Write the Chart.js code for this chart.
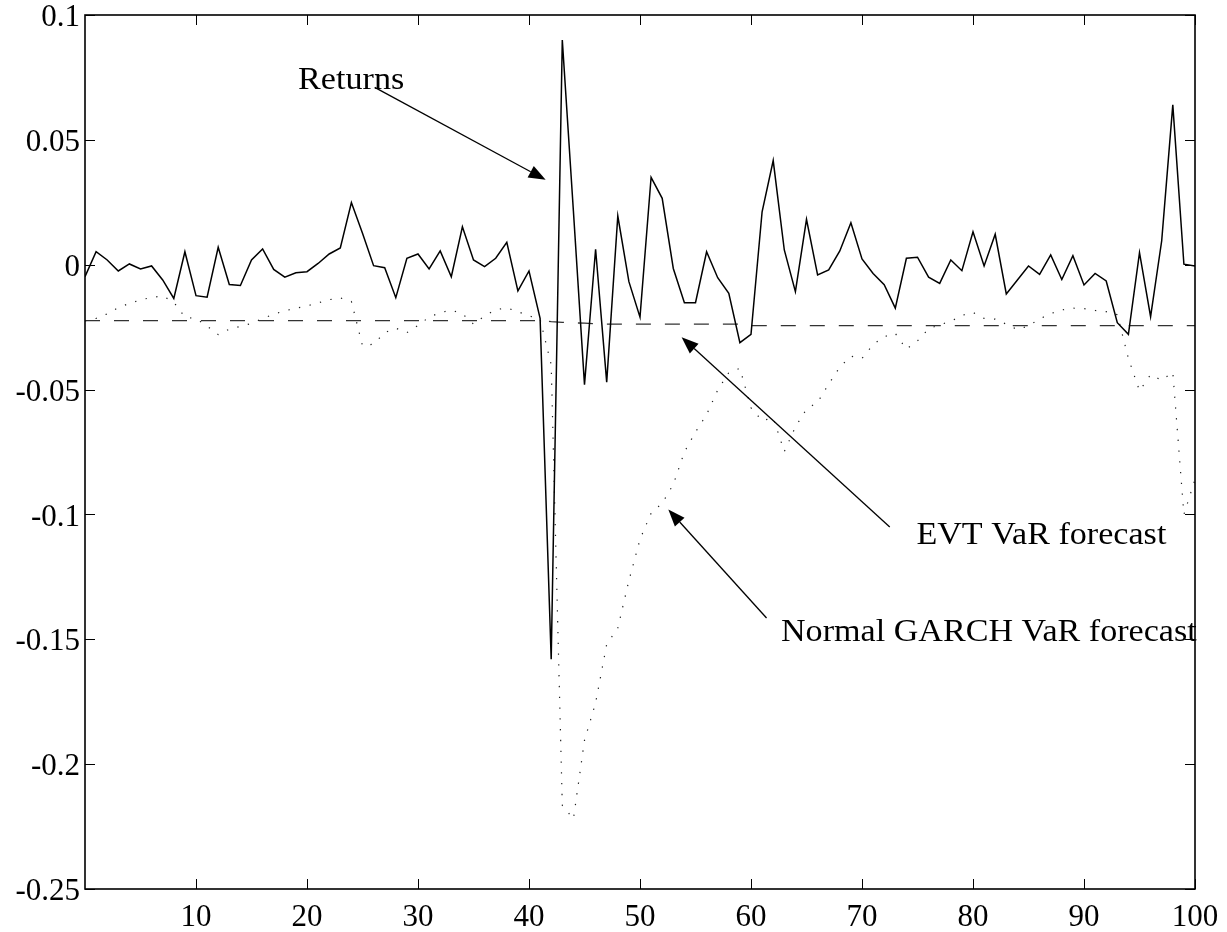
<!DOCTYPE html>
<html>
<head>
<meta charset="utf-8">
<script src="https://cdn.jsdelivr.net/npm/chart.js@4.4.1/dist/chart.umd.min.js"></script>
<style>
  html, body { margin: 0; padding: 0; background: #fff; }
  #wrap { width: 1227px; height: 932px; }
</style>
</head>
<body>
<div id="wrap"><canvas id="varChart" width="1227" height="932"></canvas></div>
<script>
// x ticks and y ticks
const xTicks = [10, 20, 30, 40, 50, 60, 70, 80, 90, 100];
const yTicks = [0.1, 0.05, 0, -0.05, -0.1, -0.15, -0.2, -0.25];
const yTickLabels = ["0.1", "0.05", "0", "-0.05", "-0.1", "-0.15", "-0.2", "-0.25"];

// daily returns, day 0..100
const returns = [
  -0.0048, 0.0052, 0.0019, -0.0025, 0.0003, -0.0017, -0.0005, -0.0061, -0.0135, 0.0052,
  -0.0124, -0.0130, 0.0070, -0.0079, -0.0083, 0.0019, 0.0063, -0.0019, -0.0050, -0.0032,
  -0.0028, 0.0005, 0.0043, 0.0067, 0.0249, 0.0126, -0.0004, -0.0012, -0.0132, 0.0026,
  0.0043, -0.0017, 0.0055, -0.0048, 0.0152, 0.0019, -0.0008, 0.0026, 0.0090, -0.0105,
  -0.0025, -0.0215, -0.1580, 0.0900, 0.0215, -0.0480, 0.0062, -0.0470, 0.0195, -0.0068,
  -0.0210, 0.0350, 0.0266, -0.0015, -0.0152, -0.0152, 0.0052, -0.0052, -0.0115, -0.0312,
  -0.0279, 0.0212, 0.0417, 0.0059, -0.0108, 0.0182, -0.0041, -0.0021, 0.0055, 0.0168,
  0.0023, -0.0035, -0.0080, -0.0174, 0.0026, 0.0030, -0.0050, -0.0075, 0.0019, -0.0024,
  0.0132, -0.0005, 0.0122, -0.0117, -0.0061, -0.0005, -0.0039, 0.0039, -0.0059, 0.0036,
  -0.0081, -0.0035, -0.0065, -0.0232, -0.0279, 0.0048, -0.0208, 0.0096, 0.0640, 0.0002,
  -0.0005
];

// EVT VaR forecast
const evtVaR = [
  -0.0224, -0.0224, -0.0224, -0.0224, -0.0224, -0.0224, -0.0224, -0.0224, -0.0224, -0.0224,
  -0.0224, -0.0224, -0.0224, -0.0224, -0.0224, -0.0224, -0.0224, -0.0224, -0.0224, -0.0224,
  -0.0224, -0.0224, -0.0224, -0.0224, -0.0224, -0.0224, -0.0224, -0.0224, -0.0224, -0.0224,
  -0.0224, -0.0224, -0.0224, -0.0224, -0.0224, -0.0224, -0.0224, -0.0224, -0.0224, -0.0224,
  -0.0224, -0.0224, -0.0228, -0.0231, -0.0233, -0.0234, -0.0236, -0.0238, -0.0238, -0.0238,
  -0.0238, -0.0238, -0.0238, -0.0238, -0.0238, -0.0238, -0.0238, -0.0238, -0.0238, -0.0238,
  -0.0244, -0.0244, -0.0244, -0.0244, -0.0244, -0.0244, -0.0244, -0.0244, -0.0244, -0.0244,
  -0.0244, -0.0244, -0.0244, -0.0244, -0.0244, -0.0244, -0.0244, -0.0244, -0.0244, -0.0244,
  -0.0244, -0.0244, -0.0244, -0.0244, -0.0244, -0.0244, -0.0244, -0.0244, -0.0244, -0.0244,
  -0.0244, -0.0244, -0.0244, -0.0244, -0.0244, -0.0244, -0.0244, -0.0244, -0.0244, -0.0244,
  -0.0244
];

// Normal GARCH VaR forecast
const garchVaR = [
  -0.0225, -0.0215, -0.0197, -0.0172, -0.0155, -0.0141, -0.0131, -0.0125, -0.0150, -0.0210,
  -0.0216, -0.0246, -0.0280, -0.0258, -0.0247, -0.0235, -0.0216, -0.0198, -0.0185, -0.0174,
  -0.0165, -0.0153, -0.0140, -0.0133, -0.0147, -0.0325, -0.0318, -0.0272, -0.0254, -0.0272,
  -0.0243, -0.0210, -0.0192, -0.0182, -0.0196, -0.0238, -0.0205, -0.0180, -0.0173, -0.0188,
  -0.0205, -0.0218, -0.0400, -0.2165, -0.2220, -0.1905, -0.1755, -0.1520, -0.1455, -0.1265,
  -0.1100, -0.0995, -0.0955, -0.0880, -0.0750, -0.0670, -0.0600, -0.0502, -0.0432, -0.0415,
  -0.0573, -0.0625, -0.0613, -0.0748, -0.0650, -0.0578, -0.0551, -0.0478, -0.0410, -0.0366,
  -0.0375, -0.0320, -0.0288, -0.0275, -0.0338, -0.0305, -0.0257, -0.0240, -0.0227, -0.0203,
  -0.0191, -0.0215, -0.0218, -0.0238, -0.0260, -0.0245, -0.0217, -0.0196, -0.0181, -0.0174,
  -0.0176, -0.0183, -0.0188, -0.0200, -0.0375, -0.0505, -0.0440, -0.0463, -0.0430, -0.1000,
  -0.0860
];

// annotations: text and arrows in data units
const notes = [
  { text: "Returns", x: 19.2, y: 0.0737, from: [26.1, 0.071], to: [41.5, 0.034] },
  { text: "EVT VaR forecast", x: 74.9, y: -0.1087, from: [72.5, -0.105], to: [53.75, -0.029] },
  { text: "Normal GARCH VaR forecast", x: 62.7, y: -0.1475, from: [61.4, -0.1415], to: [52.55, -0.098] }
];

const FONT = "'Liberation Serif', 'Times New Roman', serif";

const toXY = arr => arr.map((v, i) => ({ x: i, y: v }));

// frame, inward ticks, arrows and labels
const matlabAxes = {
  id: "matlabAxes",
  afterDatasetsDraw(chart) {
    const { ctx, chartArea: a, scales: { x, y } } = chart;
    ctx.save();
    ctx.strokeStyle = "#000";
    ctx.lineWidth = 1.6;
    ctx.strokeRect(a.left, a.top, a.right - a.left, a.bottom - a.top);

    ctx.lineWidth = 1;
    ctx.beginPath();
    const tl = 10;
    xTicks.forEach(t => {
      const px = Math.round(x.getPixelForValue(t)) + 0.5;
      ctx.moveTo(px, a.bottom); ctx.lineTo(px, a.bottom - tl);
      ctx.moveTo(px, a.top); ctx.lineTo(px, a.top + tl);
    });
    yTicks.forEach(t => {
      const py = Math.round(y.getPixelForValue(t)) + 0.5;
      ctx.moveTo(a.left, py); ctx.lineTo(a.left + tl, py);
      ctx.moveTo(a.right, py); ctx.lineTo(a.right - tl, py);
    });
    ctx.stroke();

    ctx.font = "31px " + FONT;
    ctx.fillStyle = "#000";
    ctx.textBaseline = "middle";
    ctx.textAlign = "left";
    notes.forEach(n => {
      const tx = x.getPixelForValue(n.x), ty = y.getPixelForValue(n.y);
      ctx.save();
      ctx.translate(tx, ty);
      ctx.scale(1.1, 1);
      ctx.fillText(n.text, 0, 0);
      ctx.restore();

      const x0 = x.getPixelForValue(n.from[0]), y0 = y.getPixelForValue(n.from[1]);
      const x1 = x.getPixelForValue(n.to[0]), y1 = y.getPixelForValue(n.to[1]);
      const ang = Math.atan2(y1 - y0, x1 - x0);
      const hl = 17, hw = 6.5;
      ctx.lineWidth = 1.3;
      ctx.beginPath();
      ctx.moveTo(x0, y0);
      ctx.lineTo(x1 - hl * Math.cos(ang), y1 - hl * Math.sin(ang));
      ctx.stroke();
      ctx.beginPath();
      ctx.moveTo(x1, y1);
      ctx.lineTo(x1 - hl * Math.cos(ang) + hw * Math.sin(ang), y1 - hl * Math.sin(ang) - hw * Math.cos(ang));
      ctx.lineTo(x1 - hl * Math.cos(ang) - hw * Math.sin(ang), y1 - hl * Math.sin(ang) + hw * Math.cos(ang));
      ctx.closePath();
      ctx.fill();
    });
    ctx.restore();
  }
};

new Chart(document.getElementById("varChart"), {
  type: "line",
  data: {
    datasets: [
      {
        label: "Returns",
        data: toXY(returns),
        borderColor: "#000",
        borderWidth: 1.5,
        pointRadius: 0,
        tension: 0,
        order: 1
      },
      {
        label: "EVT VaR forecast",
        data: toXY(evtVaR),
        borderColor: "#333",
        borderWidth: 1.3,
        borderDash: [15, 14],
        pointRadius: 0,
        tension: 0,
        order: 2
      },
      {
        label: "Normal GARCH VaR forecast",
        data: toXY(garchVaR),
        borderColor: "#222",
        borderWidth: 1.2,
        borderDash: [1.3, 9.5],
        pointRadius: 0,
        tension: 0,
        order: 3
      }
    ]
  },
  options: {
    responsive: false,
    animation: false,
    layout: { padding: { top: 15, right: 32, bottom: 0, left: 0 } },
    plugins: { legend: { display: false }, tooltip: { enabled: false } },
    scales: {
      x: {
        type: "linear",
        min: 0,
        max: 100,
        afterBuildTicks: s => { s.ticks = xTicks.map(v => ({ value: v })); },
        afterFit: s => { s.height = 43; s.paddingLeft = 0; s.paddingRight = 0; },
        border: { display: false },
        grid: { display: false, drawTicks: false },
        ticks: {
          color: "#000",
          padding: 13,
          maxRotation: 0,
          autoSkip: false,
          font: { family: FONT, size: 31, lineHeight: 1 },
          callback: v => String(v)
        }
      },
      y: {
        min: -0.25,
        max: 0.1,
        afterBuildTicks: s => { s.ticks = yTicks.map(v => ({ value: v })); },
        afterFit: s => { s.width = 85; s.paddingTop = 0; s.paddingBottom = 0; },
        border: { display: false },
        grid: { display: false, drawTicks: false },
        ticks: {
          color: "#000",
          padding: 5,
          labelOffset: 3,
          autoSkip: false,
          font: { family: FONT, size: 31, lineHeight: 1 },
          callback: v => yTickLabels[yTicks.indexOf(v)] ?? ""
        }
      }
    }
  },
  plugins: [matlabAxes]
});
</script>
</body>
</html>
